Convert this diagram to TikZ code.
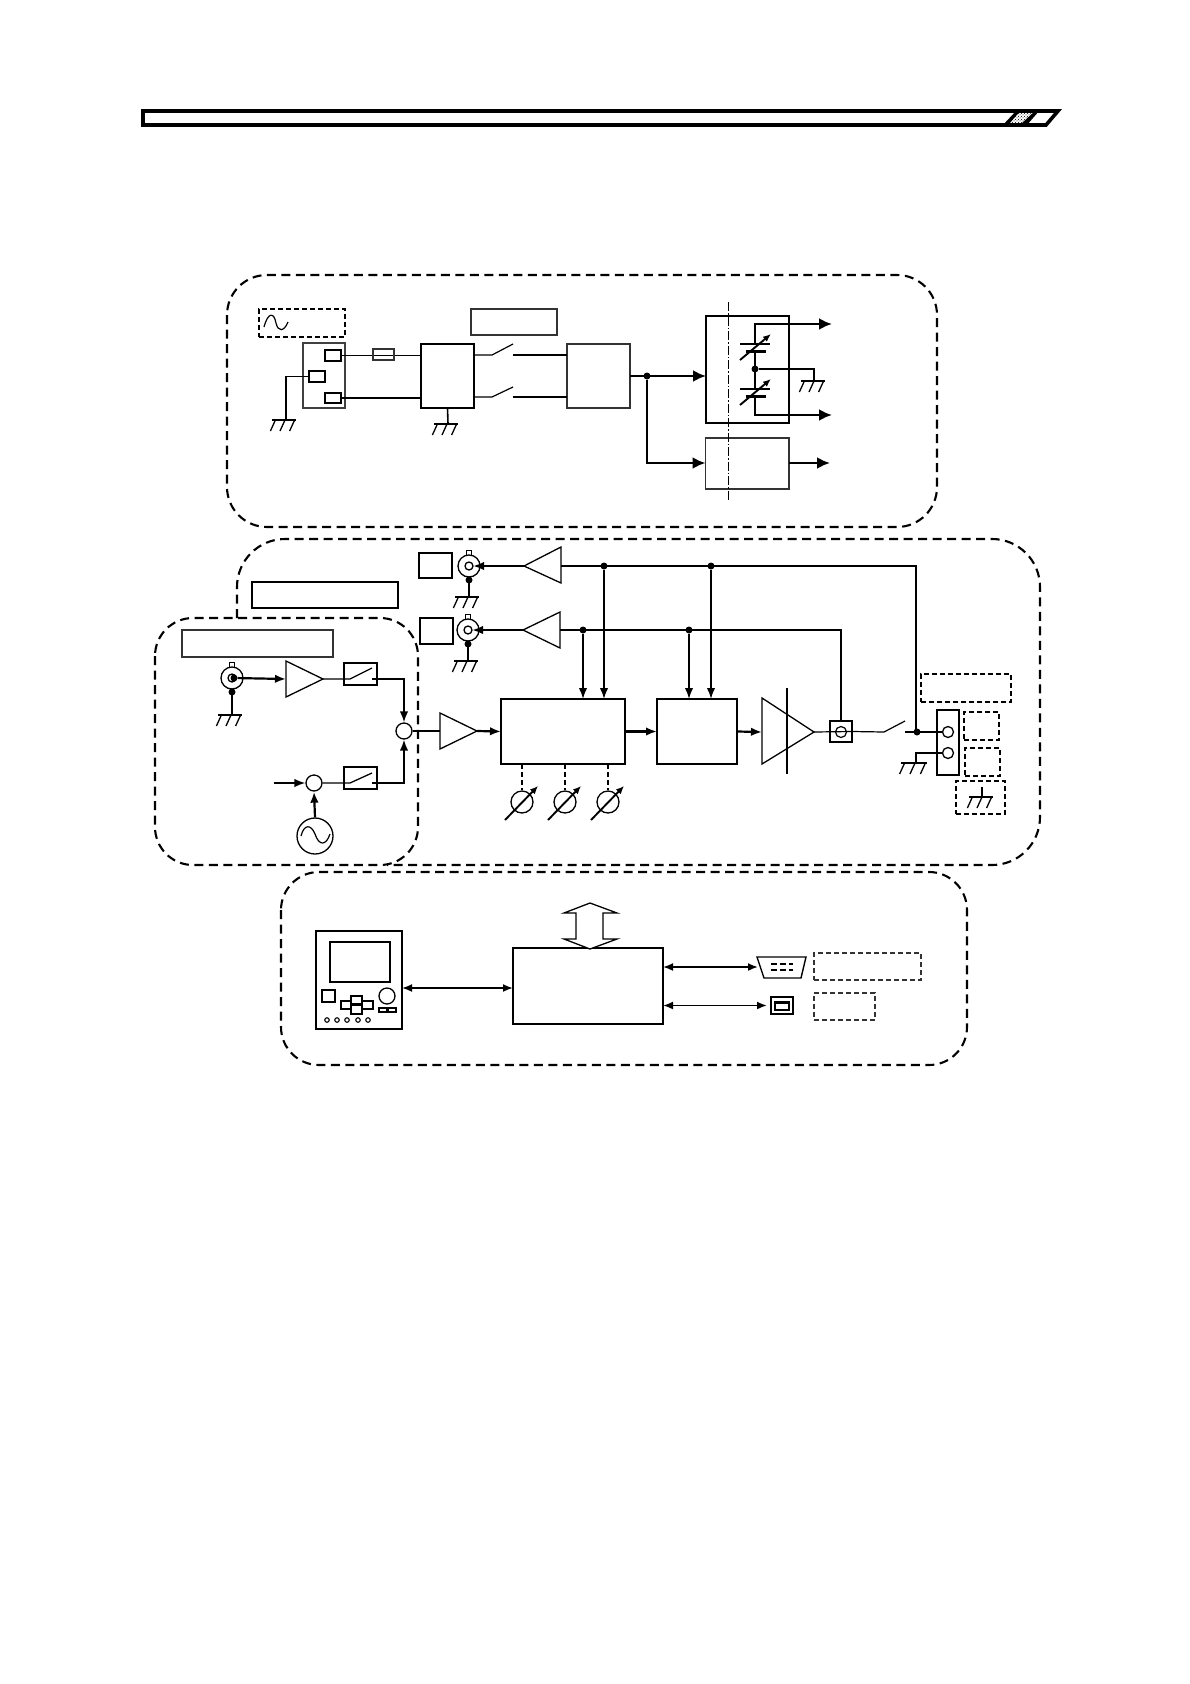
\documentclass[tikz,border=0pt]{standalone}
\usetikzlibrary{arrows.meta,calc,patterns}
\tikzset{
  thinln/.style={line width=1pt},
  midln/.style={line width=1.4pt},
  thickln/.style={line width=2pt},
  bigdash/.style={line width=2.1pt,dash pattern=on 9pt off 5.5pt},
  smalldash/.style={line width=1.5pt,dash pattern=on 5pt off 3pt},
  arrm/.style={line width=1.8pt,-{Latex[length=11pt,width=8.5pt]}},
  arrb/.style={line width=2.4pt,-{Latex[length=13pt,width=12pt]}},
  arrd/.style={line width=1.8pt,{Latex[length=10pt,width=8pt]}-{Latex[length=10pt,width=8pt]}},
  jdot/.style={circle,fill=black,inner sep=0pt,minimum size=7pt},
  ringn/.style={circle,draw,line width=1.3pt,inner sep=0pt,fill=white},
}
% box node from corners
\newcommand\bx[6][thinln]{\node[draw,#1,inner sep=0pt,outer sep=0pt,minimum width={(#5-#3)*1pt},minimum height={(#6-#4)*1pt}] (#2) at ({(#3+#5)/2},{(#4+#6)/2}) {};}
% triangle pointing along: name, base x, top y, bottom y, apex x, apex y
\newcommand\tri[6]{\coordinate (#1) at (#5,#6);\coordinate (#1-b) at (#2,#6);\draw[line width=1.3pt,fill=white] (#2,#3) -- (#2,#4) -- (#1) -- cycle;}
% ground: name, x, y, half width, tick height
\newcommand\gnd[5]{\coordinate (#1) at (#2,#3);
  \draw[line width=1.3pt] ($(#1)+(-#4,0)$) -- ($(#1)+(#4,0)$);
  \foreach \k in {-0.8,0,0.8}{\draw[line width=1.3pt] ($(#1)+({\k*#4+1},0)$) -- ($(#1)+({\k*#4-4},#5)$);}}
% BNC: name, x, y
\newcommand\bnc[3]{\draw[line width=1pt] (#2-2.5,#3-15.5) rectangle (#2+2.5,#3-11);
  \draw[line width=1.4pt] (#2,#3+11) -- (#2,#3+31);
  \node[ringn,minimum size=22pt] (#1) at (#2,#3) {};
  \node[ringn,minimum size=8pt] (#1-i) at (#2,#3) {};
  \node[jdot] (#1-g) at (#2,#3+14) {};}
\begin{document}
\begin{tikzpicture}[x=1pt,y=-1pt,line join=miter]
\useasboundingbox (0,0) rectangle (1190,1684);
\fill[white] (0,0) rectangle (1190,1684);

% header bar
\coordinate (barA) at (143,111);
\coordinate (barB) at (1058,111);
\coordinate (barC) at (1046,125);
\coordinate (barD) at (143,125);
\draw[line width=3.6pt] (barA) -- (barB) -- (barC) -- (barD) -- cycle;
\fill[pattern=crosshatch dots,pattern color=black] (1006,124) -- (1019,111) -- (1033,111) -- (1021,124) -- cycle;
\fill[black] (1002,126) -- (1017,110) -- (1021,110) -- (1009,124) -- (1021,124) -- (1036,110) -- (1040,110) -- (1026,126) -- cycle;

% ---------- power supply block
\draw[bigdash,rounded corners=40pt] (227,275) rectangle (937,527);
\bx[smalldash]{acbox}{259}{309}{345}{337}
\draw[line width=1.2pt] (264,327) .. controls (268,312) and (274,312) .. (276,323) .. controls (278,332) and (284,332) .. (288,322);
\bx[black!75,line width=1.3pt]{inlet}{303}{343}{345}{408}
\bx[line width=1.3pt]{pinL}{325}{350}{341}{361}
\bx[line width=1.3pt]{pinE}{309}{371}{325}{382}
\bx[line width=1.3pt]{pinN}{325}{393}{341}{403}
\bx[line width=2pt]{filter}{421}{344}{474}{408}
\bx[line width=1.3pt,black!80]{swlabel}{471}{309}{557}{335}
\bx[line width=1.3pt,black!80]{rect}{567}{344}{630}{408}
\bx[line width=2.2pt]{tbox}{706}{316}{789}{423}
\bx[line width=1.1pt,black!80]{dcbox}{705.5}{438}{789}{489}

\draw[line width=1.2pt] (pinL.east) -- (filter.west |- pinL.east);
\bx[line width=1.2pt,black!80]{fuse}{373}{349}{394}{360}
\draw[line width=1.2pt] (pinN.east) -- (filter.west |- pinN.east);
\draw[line width=1.2pt] (pinE.west) -- (286,376.5) coordinate (gA) -- (286,420);
\gnd{g1}{284}{420}{12}{11}
\draw[line width=1.6pt] (filter.south) -- (448,424);
\gnd{g2}{446}{424}{12}{11}

\coordinate (s1a) at (492,355); \coordinate (s1b) at (513,344); \coordinate (s1c) at (513,355);
\coordinate (s2a) at (492,397); \coordinate (s2b) at (513,387); \coordinate (s2c) at (513,397);
\draw[line width=1.2pt] (filter.east |- s1a) -- (s1a) -- (s1b);
\draw[line width=1.2pt] (s1c) -- (rect.west |- s1c);
\draw[line width=1.2pt] (filter.east |- s2a) -- (s2a) -- (s2b);
\draw[line width=1.2pt] (s2c) -- (rect.west |- s2c);

\node[jdot] (jr) at (647,376) {};
\draw[arrb] (rect.east) -- (tbox.west |- rect.east);
\draw[arrb] (jr) -- (647,463) -- (dcbox.west |- 0,463);
\draw[thinln,dash pattern=on 9pt off 2pt on 1.5pt off 2pt] (728,302) coordinate (cl1) -- (728,501) coordinate (cl2);

\coordinate (capT) at (755,324); \coordinate (capB) at (755,415);
\node[jdot] (jc) at (755,369) {};
\coordinate (o1) at (832,324); \coordinate (o2) at (832,415); \coordinate (o3) at (830,463);
\draw[line width=1.2pt] (tbox.east |- capT) -- (capT) -- (capB) -- (tbox.east |- capB);
\draw[arrb] (tbox.east |- capT) -- (o1);
\draw[arrb] (781,415) -- (o2);
\draw[line width=1.2pt] (jc) -- (814,369) -- (814,381);
\gnd{g3}{813}{381}{12}{11}
\draw[arrb] (dcbox.east |- 0,463) -- (o3);
% variable capacitors
\foreach \yy/\na in {344/a,389/b}{
  \fill[white] (745,\yy+1) rectangle (766,\yy+7);
  \draw[line width=2.8pt] (740,\yy) -- (770,\yy);
  \draw[line width=2.8pt] (745.5,\yy+7.5) -- (766,\yy+7.5);
  \draw[line width=1.9pt,-{Latex[length=8pt,width=6.5pt]}] (740,\yy+16) -- (771,\yy-10);
}

% ---------- main signal block
\draw[bigdash,rounded corners=48pt] (237,618) -- (237,539) -- (1040,539) -- (1040,865) -- (387,865);
\draw[bigdash,rounded corners=38pt,fill=none] (155,618) rectangle (418,865);
\bx[line width=1.3pt]{lab2}{252}{582}{398}{608}
\bx[line width=1.2pt,black!80]{lab3}{182}{630}{333}{657}
\bx[line width=1.3pt]{mon1}{419}{553}{452}{578}
\bx[line width=2pt]{mon2}{420}{618}{453}{644}

\bnc{bncA}{469}{566}
\bnc{bncB}{468}{630}
\gnd{g4}{467}{597}{12}{11}
\gnd{g5}{466}{661}{12}{11}
\tri{tA}{561}{547}{583}{524}{566}
\tri{tB}{560}{612}{648}{523}{630}
\draw[arrm,line width=2.2pt] (tA) -- ($(bncA)+(4,0)$);
\draw[arrm,line width=2.2pt] (tB) -- ($(bncB)+(4,0)$);

\bx[line width=1.4pt]{mix}{501}{699}{625}{764}
\bx[line width=1.4pt]{att}{657}{699}{737}{764}

\node[jdot] (jA1) at (604,566) {};
\node[jdot] (jA2) at (711,566) {};
\node[jdot] (jB1) at (583,630) {};
\node[jdot] (jB2) at (689,630) {};
\node[jdot] (jO) at (917,732) {};
\coordinate (cplT) at (841,720);
\draw[line width=1.3pt] (tA-b) -- (916,566) -- (916,732);
\draw[line width=1.3pt] (tB-b) -- (841,630) -- (cplT);
\draw[arrm] (jA1) -- (jA1 |- mix.north);
\draw[arrm] (jA2) -- (jA2 |- att.north);
\draw[arrm] (jB1) -- (jB1 |- mix.north);
\draw[arrm] (jB2) -- (jB2 |- att.north);

\tri{tPA}{762}{698}{764}{814}{732}
\draw[line width=1.3pt] (787,688) coordinate (pv1) -- (787,774) coordinate (pv2);
\draw[arrm,line width=2.2pt] (mix.east) -- (att.west);
\draw[arrm,line width=2.2pt] (att.east) -- (tPA-b);

\bx[line width=1.3pt]{cpl}{830}{721}{852}{742}
\node[circle,draw,line width=1.2pt,inner sep=0pt,minimum size=11pt] (cplc) at (841,732) {};
\draw[line width=1.2pt] (tPA) -- (cpl.east);
\coordinate (rs1) at (884,732); \coordinate (rs2) at (905,721); \coordinate (rs3) at (905,732);
\draw[line width=1.2pt] (cpl.east) -- (rs1) -- (rs2);
\bx[line width=1.3pt]{term}{937}{710}{959}{775}
\node[ringn,minimum size=11pt] (tc1) at (948,732) {};
\node[ringn,minimum size=11pt] (tc2) at (948,753) {};
\draw[line width=1.2pt] (rs3) -- (tc1.west);
\draw[line width=1.2pt] (tc2.west) -- (916,753) -- (916,763);
\gnd{g6}{914}{763}{13}{11}
\bx[smalldash]{d1}{921}{674}{1011}{702}
\bx[smalldash]{d2}{964}{712}{999}{740}
\bx[smalldash]{d3}{965}{748}{1000}{776}
\bx[smalldash]{d4}{956}{781}{1005}{814}
\draw[line width=1.2pt] (982,787) -- (982,797);
\gnd{g7}{981}{797}{12}{11}

% inner block: input section
\bnc{bncC}{232}{678}
\gnd{g8}{230}{715}{12}{11}
\draw[line width=1.4pt] (232,697) -- (232,715);
\node[jdot] (bncCd) at (234,678) {};
\tri{tC}{286}{661}{697}{323}{679}
\draw[arrm,line width=2.2pt] (bncCd) -- (tC-b);
\bx[line width=1.4pt]{swA}{344}{663}{377}{685}
\bx[line width=1.4pt]{swB}{344}{767}{377}{789}
\node[ringn,minimum size=16pt] (sum) at (404,731) {};
\node[ringn,minimum size=16pt] (sum2) at (314,783) {};
\coordinate (swAa) at (350,679); \coordinate (swAb) at (372,668); \coordinate (swAc) at (372,679);
\coordinate (swBa) at (350,783); \coordinate (swBb) at (372,773); \coordinate (swBc) at (372,783);
\draw[line width=1.3pt] (tC) -- (swAa) -- (swAb);
\draw[line width=1.3pt] (sum2.east) -- (swBa) -- (swBb);
\draw[arrm] (swAc) -- (404,679) -- (sum.north);
\draw[arrm] (swBc) -- (404,783) -- (sum.south);
\coordinate (extin) at (274,783);
\draw[arrm] (extin) -- (sum2.west);
\node[ringn,minimum size=36pt] (osc) at (315,836) {};
\draw[arrm,line width=2.2pt] (osc.north) -- (sum2.south);
\draw[line width=1.2pt] (301,836) .. controls (304,824) and (311,824) .. (315,834) .. controls (319,846) and (326,846) .. (330,834);
\tri{tD}{440}{713}{749}{477}{731}
\draw[line width=1.3pt] (sum.east) -- (tD-b);
\draw[arrm,line width=2.2pt] (tD) -- (mix.west);
% variable controls
\foreach \n/\xx in {a/522,b/565,c/608}{
  \node[ringn,minimum size=22pt,fill=none] (vr\n) at (\xx,802) {};
  \draw[line width=1.1pt,dash pattern=on 5pt off 3pt] (\xx,764) -- (vr\n.north);
  \draw[line width=1.9pt,-{Latex[length=8pt,width=7pt]}] (\xx-17,820) -- (\xx+16,786);
}

% ---------- control block
\draw[bigdash,rounded corners=38pt] (281,872) rectangle (967,1065);
\bx[line width=1.4pt]{panel}{316}{931}{402}{1029}
\bx[line width=1.6pt]{screen}{330}{942}{390}{982}
\bx[line width=1.3pt]{pbtn}{322}{990}{335}{1002}
\bx[line width=1.3pt]{kL}{341}{1001}{351}{1009}
\bx[line width=1.3pt]{kR}{362}{1001}{373}{1009}
\bx[line width=1.3pt]{kT}{351}{996}{362}{1004}
\bx[line width=1.3pt]{kB}{351}{1005}{362}{1014}
\node[circle,draw,line width=1.3pt,inner sep=0pt,minimum size=16pt] (knob) at (387,996) {};
\bx[line width=1.2pt]{b1}{379}{1008}{387}{1012}
\bx[line width=1.2pt]{b2}{388}{1008}{396}{1012}
\foreach \n/\xx in {a/327,b/337,c/347,d/358,e/368}{\node[circle,draw,line width=1.1pt,inner sep=0pt,minimum size=4.5pt] (led\n) at (\xx,1020) {};}
\bx[line width=1.4pt]{cpu}{513}{948}{663}{1024}
\draw[arrd] (panel.east |- 0,988) -- (cpu.west |- 0,988);
\node[coordinate] (busT) at (590,903) {};
\node[coordinate] (busB) at (590,949) {};
\draw[line width=1.3pt,fill=white] (busT) -- (617,913) -- (603,913) -- (603,939) -- (617,939) -- (busB) -- (564,939) -- (576,939) -- (576,913) -- (564,913) -- cycle;
% D-sub
\node[coordinate] (dsub) at (758,967) {};
\draw[line width=1.4pt] (757,957) -- (806,957) -- (801,978) -- (764,978) -- cycle;
\foreach \yy in {964,970}{\draw[line width=1.2pt,dash pattern=on 6pt off 3pt] (771,\yy) -- (793,\yy);}
\draw[arrd] (cpu.east |- dsub) -- (dsub);
\bx[line width=1.8pt]{usb}{771}{997}{793}{1014}
\bx[line width=1.3pt]{usbi}{775}{1002}{789}{1010}
\draw[line width=2pt] (775,1002.5) -- (789,1002.5);
\draw[arrd] (cpu.east |- usb.west) -- (usb.west -| 767,0);
\bx[smalldash,black!80]{d5}{814}{953}{921}{980}
\bx[smalldash,black!80]{d6}{814}{993}{875}{1020}
\end{tikzpicture}
\end{document}
